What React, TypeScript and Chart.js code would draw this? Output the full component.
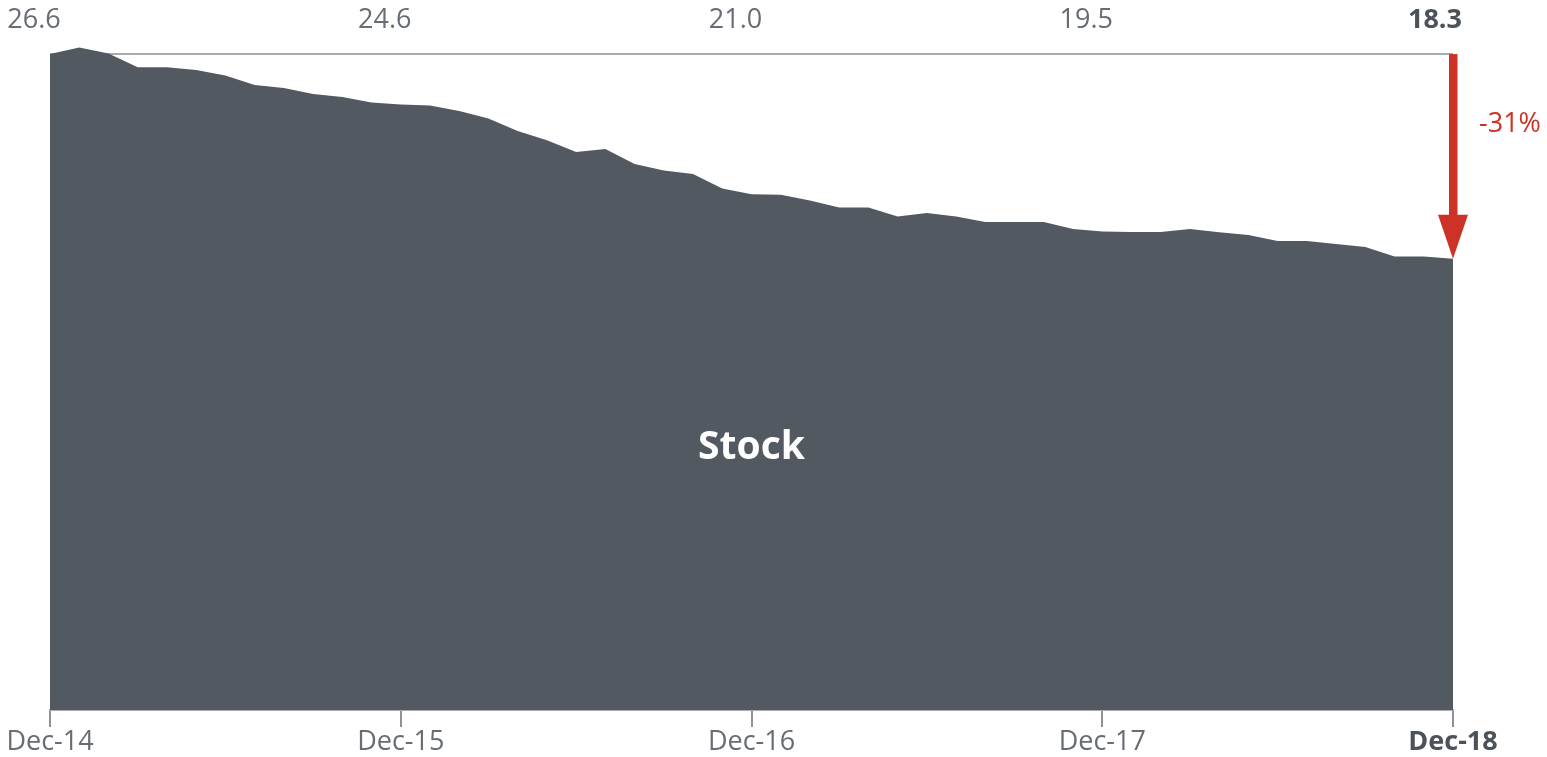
import React, { useEffect, useRef } from "react";
import { Chart, registerables } from "chart.js";

Chart.register(...registerables);

const MONTHS = ["Jan", "Feb", "Mar", "Apr", "May", "Jun", "Jul", "Aug", "Sep", "Oct", "Nov", "Dec"];
const categories: string[] = Array.from({ length: 49 }, (_, i) => {
  const m = (11 + i) % 12;
  const y = 14 + Math.floor((11 + i) / 12);
  return `${MONTHS[m]}-${y}`;
});

const stockValues = [
  26.6, 26.87, 26.62, 26.07, 26.07, 25.95, 25.73, 25.35, 25.22, 24.98, 24.86, 24.64,
  24.55, 24.51, 24.29, 23.99, 23.48, 23.11, 22.63, 22.75, 22.14, 21.88, 21.74, 21.15,
  20.92, 20.9, 20.66, 20.38, 20.38, 20.01, 20.15, 20.01, 19.79, 19.79, 19.79, 19.51,
  19.4, 19.38, 19.38, 19.51, 19.37, 19.26, 19.02, 19.02, 18.9, 18.78, 18.39, 18.39,
  18.3,
];

const tickIndices = [0, 12, 24, 36, 48];
const tickLabels = ["Dec-14", "Dec-15", "Dec-16", "Dec-17", "Dec-18"];
const topLabels = ["26.6", "24.6", "21.0", "19.5", "18.3"];
const referenceValue = 26.6;
const finalValue = 18.3;
const seriesName = "Stock";

const FONT = "'Open Sans', 'Noto Sans', sans-serif";
const AREA = "#525961";
const GREY_TEXT = "#676d75";
const DARK_TEXT = "#4b525a";
const RED = "#cc3326";
const LAST_TICK = tickLabels[tickLabels.length - 1];

const overlayPlugin = {
  id: "overlay",
  afterDatasetsDraw(chart: any) {
    const ctx = chart.ctx;
    const xs = chart.scales.x;
    const ys = chart.scales.y;
    ctx.save();
    // top value labels
    ctx.textBaseline = "middle";
    ctx.textAlign = "center";
    tickIndices.forEach((idx, k) => {
      const last = k === tickIndices.length - 1;
      ctx.font = `${last ? "bold " : ""}27px ${FONT}`;
      ctx.fillStyle = last ? DARK_TEXT : GREY_TEXT;
      ctx.fillText(topLabels[k], xs.getPixelForValue(idx) - (last ? 18 : 16), ys.getPixelForValue(referenceValue) - 34);
    });
    // arrow
    const lastIdx = stockValues.length - 1;
    const ax = xs.getPixelForValue(lastIdx);
    const y1 = ys.getPixelForValue(referenceValue);
    const y2 = ys.getPixelForValue(finalValue);
    const headH = 44;
    ctx.fillStyle = RED;
    ctx.fillRect(ax - 4, y1, 8.5, y2 - headH - y1 + 1);
    ctx.beginPath();
    ctx.moveTo(ax - 15, y2 - headH);
    ctx.lineTo(ax + 15, y2 - headH);
    ctx.lineTo(ax, y2);
    ctx.closePath();
    ctx.fill();
    const pct = Math.round((finalValue / referenceValue - 1) * 100);
    ctx.font = `27px ${FONT}`;
    ctx.textAlign = "left";
    ctx.fillText(`${pct}%`, ax + 26, y1 + 70);
    // series label
    ctx.font = `bold 39px ${FONT}`;
    ctx.fillStyle = "#ffffff";
    ctx.textAlign = "center";
    ctx.fillText(seriesName, xs.getPixelForValue(24), ys.getPixelForValue(10.65));
    ctx.restore();
  },
};

export default function App() {
  const ref = useRef<HTMLCanvasElement>(null);
  useEffect(() => {
    if (!ref.current) return;
    const chart = new Chart(ref.current, {
      type: "line",
      data: {
        labels: categories,
        datasets: [
          {
            label: seriesName,
            data: stockValues,
            fill: "origin",
            backgroundColor: AREA,
            borderColor: AREA,
            borderWidth: 0,
            pointRadius: 0,
            tension: 0,
          },
          {
            label: "reference",
            data: categories.map(() => referenceValue),
            fill: false,
            borderColor: "#a7abb0",
            borderWidth: 2,
            pointRadius: 0,
            tension: 0,
          },
        ],
      },
      options: {
        animation: false,
        responsive: false,
        layout: { padding: { left: 50, right: 94, top: 44.2, bottom: 0 } },
        plugins: { legend: { display: false }, tooltip: { enabled: false } },
        scales: {
          x: {
            z: 1,
            offset: false,
            grid: {
              display: true,
              drawOnChartArea: false,
              drawTicks: true,
              tickLength: 17,
              color: "#8e9297",
              lineWidth: 2,
            },
            border: { display: true, color: "#a9adb1", width: 2 },
            ticks: {
              autoSkip: false,
              maxRotation: 0,
              padding: 0,
              callback: (_v: any, idx: number) => {
                const k = tickIndices.indexOf(idx);
                return k >= 0 ? tickLabels[k] : null;
              },
              font: (c: any) => ({
                family: FONT,
                size: 27,
                weight: c.tick && c.tick.label === LAST_TICK ? "bold" : "normal",
                lineHeight: 1.11,
              }),
              color: (c: any) => (c.tick && c.tick.label === LAST_TICK ? DARK_TEXT : GREY_TEXT),
            },
          },
          y: { display: false, min: 0, max: 27 },
        },
      },
      plugins: [overlayPlugin],
    });
    return () => chart.destroy();
  }, []);
  return (
    <div style={{ position: "fixed", left: 0, top: 0, width: 1547, height: 757, background: "#fff" }}>
      <canvas ref={ref} width={1547} height={757} />
    </div>
  );
}
